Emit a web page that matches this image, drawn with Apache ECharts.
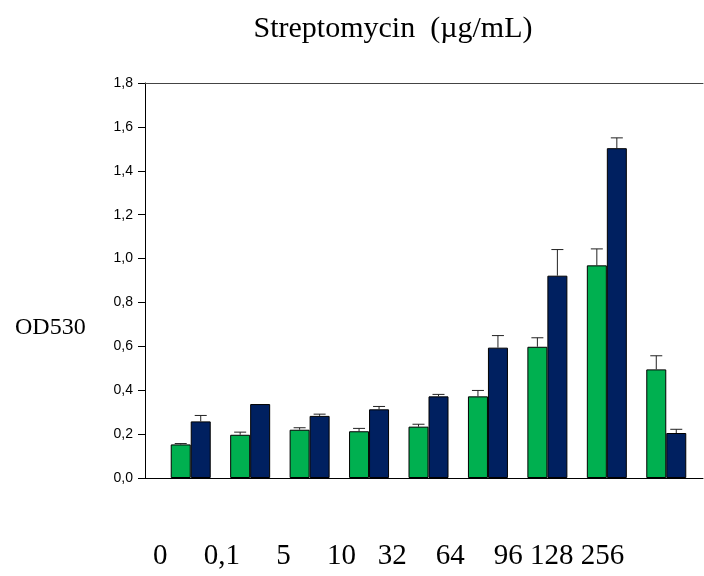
<!DOCTYPE html>
<html>
<head>
<meta charset="utf-8">
<script src="https://cdn.jsdelivr.net/npm/echarts@6/dist/echarts.min.js"></script>
<style>
html,body{margin:0;padding:0;background:#fff;}
#chart{width:704px;height:576px;}
</style>
</head>
<body>
<div id="chart"></div>
<script>
// ---- data ----
var categories = ['0', '0,1', '5', '10', '32', '64', '96', '128', '256'];
var greenValues = [0.153, 0.197, 0.220, 0.213, 0.234, 0.372, 0.598, 0.969, 0.495];
var greenErrors = [0.004, 0.012, 0.009, 0.013, 0.011, 0.027, 0.041, 0.075, 0.062];
var blueValues  = [0.258, 0.337, 0.283, 0.313, 0.372, 0.594, 0.922, 1.503, 0.205];
var blueErrors  = [0.027, 0.000, 0.008, 0.013, 0.009, 0.055, 0.119, 0.047, 0.017];
var yTickLabels = ['0,0', '0,2', '0,4', '0,6', '0,8', '1,0', '1,2', '1,4', '1,6', '1,8'];
var titleText = 'Streptomycin\u00a0\u00a0(\u00b5g/mL)';
var yTitle = 'OD530';

// ---- layout ----
var labelGaps = [5, 5, 5, 3, 4, 4, 1, 1, 0];
var BAR_W = 20;
var serif = '"Liberation Serif", "Times New Roman", serif';
var sans = '"Liberation Sans", Arial, sans-serif';

var xLabelText = categories.map(function (c, i) {
  return c + new Array(labelGaps[i] + 1).join('\u00a0');
}).join('');

function errSeries(values, errors, side) {
  return {
    type: 'custom',
    xAxisIndex: 2, yAxisIndex: 1,
    z: 5,
    encode: { x: 0, y: 1 },
    data: values.map(function (v, i) { return [i, v, errors[i]]; }),
    renderItem: function (params, api) {
      var i = api.value(0), v = api.value(1), e = api.value(2);
      if (!e) return null;
      var p0 = api.coord([i, v]);
      var p1 = api.coord([i, v + e]);
      var x = p0[0] + side * BAR_W / 2;
      return {
        type: 'group',
        children: [
          { type: 'line', shape: { x1: x, y1: p0[1], x2: x, y2: p1[1] },
            style: { stroke: '#222', lineWidth: 1 } },
          { type: 'line', shape: { x1: x - 6, y1: p1[1], x2: x + 6, y2: p1[1] },
            style: { stroke: '#222', lineWidth: 1 } }
        ]
      };
    }
  };
}

var chart = echarts.init(document.getElementById('chart'), null, { renderer: 'canvas' });
chart.setOption({
  animation: false,
  backgroundColor: '#fff',
  title: {
    text: titleText,
    left: 388, top: 9, textAlign: 'center',
    textStyle: { fontFamily: serif, fontSize: 30, fontWeight: 'normal', color: '#000' }
  },
  graphic: [
    { type: 'text', left: 15, top: 316,
      style: { text: yTitle, font: '24px ' + serif, fill: '#000' } },
    { type: 'text', left: 153, top: 542,
      style: { text: xLabelText, font: '29px ' + serif, fill: '#000' } }
  ],
  grid: [
    { left: 145, right: 1, top: 83, bottom: 98 },
    { left: 161, right: 8, top: 83, bottom: 98 }
  ],
  xAxis: [
    { gridIndex: 0, type: 'value', min: 0, max: 1, position: 'bottom',
      axisLine: { show: true, lineStyle: { color: '#000', width: 1 } },
      axisTick: { show: false }, axisLabel: { show: false }, splitLine: { show: false } },
    { gridIndex: 0, type: 'value', min: 0, max: 1, position: 'top',
      axisLine: { show: true, lineStyle: { color: '#444', width: 1 } },
      axisTick: { show: false }, axisLabel: { show: false }, splitLine: { show: false } },
    { gridIndex: 1, type: 'category', data: categories, show: false }
  ],
  yAxis: [
    { gridIndex: 0, type: 'value', min: 0, max: 1.8, interval: 0.2,
      axisLine: { show: true, lineStyle: { color: '#000', width: 1 } },
      axisTick: { show: true, inside: false, length: 7, lineStyle: { color: '#000' } },
      axisLabel: {
        margin: 12, color: '#000', fontFamily: sans, fontSize: 14,
        formatter: function (v) { return yTickLabels[Math.round(v / 0.2)]; }
      },
      splitLine: { show: false } },
    { gridIndex: 1, type: 'value', min: 0, max: 1.8, show: false }
  ],
  series: [
    { type: 'bar', xAxisIndex: 2, yAxisIndex: 1, data: greenValues,
      barWidth: BAR_W, barGap: '0%',
      itemStyle: { color: '#00B050', borderColor: '#000', borderWidth: 1 } },
    { type: 'bar', xAxisIndex: 2, yAxisIndex: 1, data: blueValues,
      barWidth: BAR_W, barGap: '0%',
      itemStyle: { color: '#002060', borderColor: '#000', borderWidth: 1 } },
    errSeries(greenValues, greenErrors, -1),
    errSeries(blueValues, blueErrors, 1)
  ]
});
</script>
</body>
</html>
